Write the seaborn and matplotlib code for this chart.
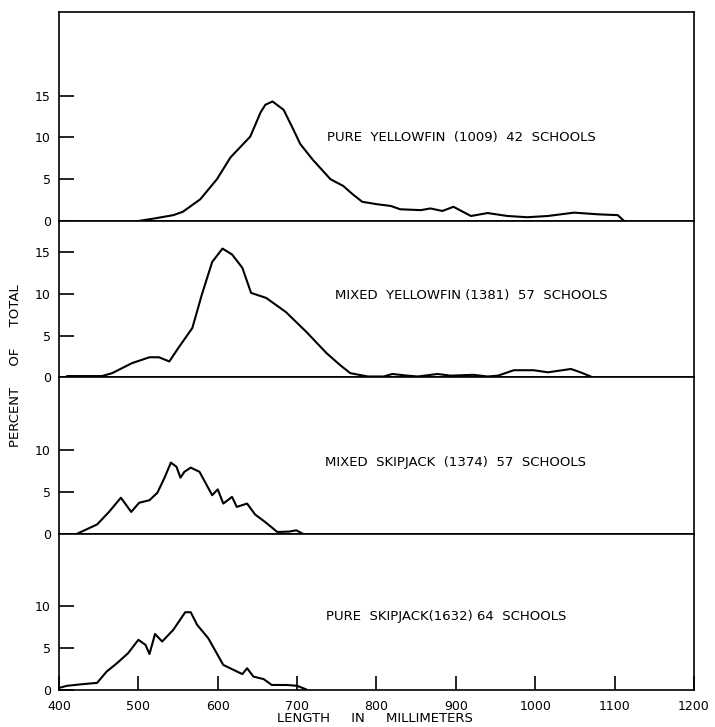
import matplotlib
matplotlib.use("Agg")
import matplotlib.pyplot as plt
import seaborn as sns
import pandas as pd

# ---- data ----
py_x = [500, 520, 544, 556, 578, 599, 616, 630, 641, 654, 660, 669, 683, 695, 704, 720,
        742, 758, 770, 782, 801, 818, 830, 856, 868, 883, 897, 919, 940, 965, 990, 1016,
        1049, 1079, 1104, 1112]
py_y = [0, 0.3, 0.7, 1.1, 2.6, 5.0, 7.6, 9.0, 10.1, 13.0, 13.9, 14.3, 13.3, 11.0, 9.2, 7.3,
        5.0, 4.2, 3.2, 2.3, 2.0, 1.8, 1.4, 1.3, 1.5, 1.2, 1.7, 0.6, 0.95, 0.6, 0.45, 0.6,
        1.0, 0.8, 0.7, 0.0]

my_x = [410, 454, 467, 492, 514, 526, 539, 551, 568, 580, 593, 606, 618, 631, 642, 661,
        686, 712, 737, 755, 767, 789, 809, 820, 839, 852, 877, 893, 922, 940, 953, 973,
        998, 1016, 1045, 1057, 1070]
my_y = [0.15, 0.15, 0.5, 1.7, 2.4, 2.4, 1.9, 3.6, 5.9, 9.9, 13.8, 15.4, 14.7, 13.1, 10.1, 9.5,
        7.8, 5.4, 2.9, 1.4, 0.5, 0.1, 0.1, 0.4, 0.2, 0.1, 0.4, 0.2, 0.3, 0.1, 0.2, 0.85,
        0.85, 0.6, 1.0, 0.6, 0.1]

ms_x = [423, 448, 463, 478, 491, 501, 514, 524, 533, 541, 548, 553, 558, 566, 577, 593,
        600, 607, 618, 624, 637, 647, 661, 675, 690, 699, 707]
ms_y = [0, 1.1, 2.6, 4.3, 2.6, 3.7, 4.0, 4.9, 6.7, 8.5, 8.0, 6.7, 7.4, 7.9, 7.4, 4.6,
        5.3, 3.6, 4.4, 3.2, 3.6, 2.3, 1.3, 0.2, 0.25, 0.4, 0]

ps_x = [400, 410, 430, 448, 460, 473, 487, 500, 509, 514, 521, 530, 544, 559, 566, 574,
        588, 607, 620, 631, 637, 645, 658, 668, 687, 700, 712]
ps_y = [0.25, 0.5, 0.7, 0.85, 2.2, 3.2, 4.4, 6.0, 5.4, 4.3, 6.7, 5.8, 7.2, 9.3, 9.3, 7.8,
        6.2, 3.0, 2.4, 1.9, 2.6, 1.6, 1.3, 0.6, 0.6, 0.5, 0.05]

labels = ["PURE  YELLOWFIN  (1009)  42  SCHOOLS",
          "MIXED  YELLOWFIN (1381)  57  SCHOOLS",
          "MIXED  SKIPJACK  (1374)  57  SCHOOLS",
          "PURE  SKIPJACK(1632) 64  SCHOOLS"]
x_ticks = [400, 500, 600, 700, 800, 900, 1000, 1100, 1200]
y_ticks = [[0, 5, 10, 15], [0, 5, 10, 15], [0, 5, 10], [0, 5, 10]]

series = [(py_x, py_y), (my_x, my_y), (ms_x, ms_y), (ps_x, ps_y)]
ylims = [25, 18.7, 18.7, 18.7]
label_pos = [(738, 10.0), (748, 9.8), (735, 8.5), (737, 8.8)]

# ---- style ----
sns.set_theme(style="white")
plt.rcParams['font.family'] = ['DejaVu Sans']
plt.rcParams['font.size'] = 9

fig, axes = plt.subplots(4, 1, figsize=(7.15, 7.27), dpi=100, sharex=True,
                         gridspec_kw=dict(height_ratios=ylims, hspace=0))
fig.subplots_adjust(left=0.0825, right=0.9706, top=0.9835, bottom=0.0509)

for i, ax in enumerate(axes):
    xs, ys = series[i]
    df = pd.DataFrame({"length": xs, "pct": ys})
    sns.lineplot(data=df, x="length", y="pct", ax=ax, color="black", linewidth=1.5)
    ax.set_xlim(400, 1200)
    ax.set_ylim(0, ylims[i])
    ax.set_yticks(y_ticks[i])
    ax.set_yticklabels([str(t) for t in y_ticks[i]])
    ax.set_xlabel("")
    ax.set_ylabel("")
    ax.tick_params(axis='y', direction='in', length=11, width=1.2, pad=6,
                   labelsize=9, colors='black', left=True)
    ax.tick_params(axis='x', direction='in', length=10, width=1.2, pad=7,
                   labelsize=9, colors='black', bottom=(i == 3))
    for sp in ax.spines.values():
        sp.set_color('black')
        sp.set_linewidth(1.2)
    tx, ty = label_pos[i]
    ax.text(tx, ty, labels[i], fontsize=9.5, va='center', ha='left', color='black')

axes[-1].set_xticks(x_ticks)
axes[-1].set_xticklabels([str(t) for t in x_ticks])

fig.text(0.021, 0.497, "PERCENT     OF     TOTAL", rotation=90, fontsize=9.5,
         ha='center', va='center', color='black')
fig.text(0.525, 0.012, "LENGTH     IN     MILLIMETERS", fontsize=9.5,
         ha='center', va='center', color='black')

fig.savefig("out.png", dpi=100)
